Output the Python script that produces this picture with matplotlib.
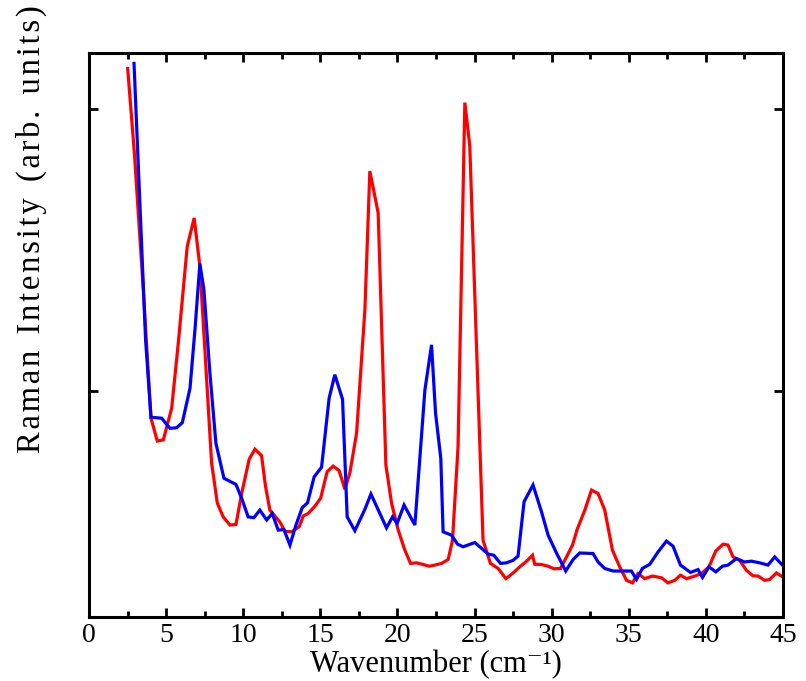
import matplotlib
matplotlib.use("Agg")
import matplotlib.pyplot as plt
from matplotlib.ticker import MultipleLocator, FixedLocator, NullFormatter

# Raman spectra, two samples (intensity in arbitrary units)
red_wavenumber = [2.51, 2.95, 3.52, 4.02, 4.43, 4.82, 5.36, 5.79, 6.37, 6.82, 7.19, 7.63,
                  7.95, 8.32, 8.70, 9.14, 9.53, 9.90, 10.39, 10.76, 11.19, 11.45, 11.73,
                  12.38, 12.70, 13.14, 13.63, 13.89, 14.21, 14.65, 15.02, 15.44, 15.83,
                  16.22, 16.59, 16.92, 17.35, 17.89, 18.21, 18.75, 19.25, 19.62, 20.05,
                  20.48, 20.85, 21.24, 21.67, 22.05, 22.42, 22.86, 23.29, 23.57, 23.93,
                  24.37, 24.69, 25.55, 26.03, 26.53, 27.03, 27.50, 27.93, 28.32, 28.76,
                  28.90, 29.34, 29.77, 30.14, 30.57, 30.96, 31.35, 31.65, 32.15, 32.58,
                  33.01, 33.44, 33.94, 34.41, 34.85, 35.24, 35.60, 36.03, 36.53, 37.12,
                  37.54, 37.98, 38.35, 38.74, 39.28, 39.71, 40.20, 40.64, 41.11, 41.43,
                  41.76, 42.19, 42.62, 43.05, 43.38, 43.81, 44.13, 44.57, 45.04]
red_intensity = [2.145, 1.840, 1.361, 0.905, 0.824, 0.828, 0.940, 1.171, 1.514, 1.615, 1.443,
                 1.041, 0.746, 0.604, 0.555, 0.526, 0.528, 0.638, 0.760, 0.795, 0.772, 0.662,
                 0.579, 0.537, 0.504, 0.502, 0.520, 0.558, 0.567, 0.593, 0.621, 0.715, 0.735,
                 0.719, 0.653, 0.712, 0.852, 1.290, 1.781, 1.633, 0.739, 0.603, 0.508, 0.437,
                 0.390, 0.392, 0.386, 0.380, 0.384, 0.390, 0.404, 0.472, 0.804, 2.024, 1.870,
                 0.472, 0.390, 0.372, 0.336, 0.356, 0.378, 0.395, 0.419, 0.387, 0.386, 0.380,
                 0.371, 0.372, 0.413, 0.455, 0.510, 0.579, 0.650, 0.638, 0.579, 0.437, 0.378,
                 0.330, 0.321, 0.354, 0.336, 0.345, 0.339, 0.321, 0.330, 0.348, 0.336, 0.345,
                 0.354, 0.378, 0.434, 0.458, 0.455, 0.413, 0.401, 0.366, 0.346, 0.345, 0.330,
                 0.333, 0.356, 0.340]

blue_wavenumber = [2.92, 3.67, 4.02, 4.71, 5.25, 5.68, 6.05, 6.55, 6.87, 7.19, 7.45, 7.84,
                   8.23, 8.75, 9.53, 9.90, 10.32, 10.69, 11.08, 11.52, 11.88, 12.27, 12.64,
                   13.03, 13.42, 13.82, 14.17, 14.60, 15.08, 15.57, 15.94, 16.44, 16.74,
                   17.24, 17.89, 18.28, 19.29, 19.68, 19.98, 20.43, 21.13, 21.78, 22.21,
                   22.47, 22.81, 22.96, 23.51, 23.90, 24.26, 25.02, 25.88, 26.25, 26.68,
                   27.07, 27.50, 27.82, 28.21, 28.79, 29.34, 29.77, 30.31, 30.91, 31.39,
                   31.82, 32.68, 33.01, 33.44, 33.98, 35.17, 35.50, 35.88, 36.36, 36.90,
                   37.44, 37.87, 38.35, 39.00, 39.49, 39.78, 40.20, 40.64, 41.07, 41.43,
                   41.98, 42.51, 42.95, 43.49, 44.02, 44.46, 44.96]
blue_intensity = [2.163, 1.183, 0.908, 0.905, 0.869, 0.871, 0.889, 1.011, 1.218, 1.453, 1.361,
                  1.065, 0.816, 0.692, 0.670, 0.621, 0.555, 0.552, 0.579, 0.544, 0.567, 0.508,
                  0.510, 0.455, 0.526, 0.587, 0.605, 0.697, 0.731, 0.976, 1.059, 0.972, 0.555,
                  0.506, 0.582, 0.636, 0.516, 0.555, 0.532, 0.597, 0.526, 1.005, 1.165, 0.923,
                  0.763, 0.502, 0.490, 0.458, 0.449, 0.464, 0.423, 0.419, 0.390, 0.392, 0.401,
                  0.416, 0.609, 0.668, 0.573, 0.490, 0.427, 0.363, 0.404, 0.427, 0.425, 0.395,
                  0.372, 0.363, 0.363, 0.333, 0.372, 0.387, 0.431, 0.469, 0.451, 0.384, 0.358,
                  0.368, 0.340, 0.378, 0.360, 0.380, 0.384, 0.407, 0.395, 0.398, 0.392, 0.384,
                  0.413, 0.384]

x_ticks = [0, 5, 10, 15, 20, 25, 30, 35, 40, 45]
y_ticks = [1.0, 2.0]

serif = ["Liberation Serif", "DejaVu Serif"]

fig = plt.figure(figsize=(8.06, 6.81), dpi=100)
ax = fig.add_axes([0.1104, 0.0940, 0.8611, 0.8282])

ax.plot(red_wavenumber, red_intensity, color="#ff0000", lw=2.3, solid_joinstyle="miter")
ax.plot(blue_wavenumber, blue_intensity, color="#0000ff", lw=2.3, solid_joinstyle="miter")

ax.set_xlim(0, 45)
ax.set_ylim(0.2, 2.2)

ax.xaxis.set_major_locator(FixedLocator(x_ticks))
ax.xaxis.set_minor_locator(MultipleLocator(2.5))
ax.yaxis.set_major_locator(FixedLocator(y_ticks))
ax.yaxis.set_major_formatter(NullFormatter())

ax.tick_params(which="both", direction="in", top=True, right=True, width=2.0)
ax.tick_params(which="major", length=6.5, pad=4)
ax.tick_params(which="minor", length=4)
for lab in ax.get_xticklabels():
    lab.set_fontfamily(serif)
    lab.set_fontsize(20)

for sp in ax.spines.values():
    sp.set_linewidth(2.2)

# axis titles placed in figure coordinates
fig.text(0.5 * (89 + 783) / 806, 1 - 672 / 681, "Wavenumber (cm\u207b\u00b9)",
         ha="center", va="baseline", family=serif, fontsize=22)

hair = "\u200a"
ylabel = "  ".join(hair.join(word) for word in ["Raman", "Intensity", "(arb.", "units)"])
fig.text(31 / 806, 1 - 229 / 681, ylabel, rotation=90, ha="center", va="center",
         family=serif, fontsize=23.5)

fig.savefig("out.png", dpi=100)
